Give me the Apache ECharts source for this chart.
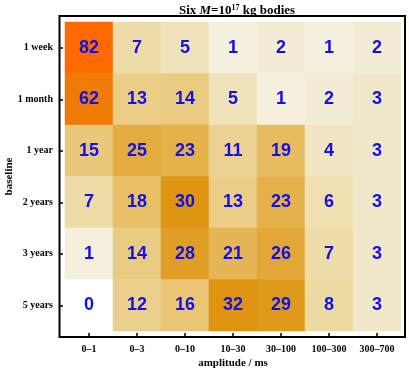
<!DOCTYPE html>
<html><head><meta charset="utf-8">
<script src="https://cdn.jsdelivr.net/npm/echarts@6/dist/echarts.min.js"></script>
<style>html,body{margin:0;padding:0;background:#fff}#c{width:409px;height:371px}</style>
</head><body><div id="c"></div>
<script>
const amplitudes = ["0–1","0–3","0–10","10–30","30–100","100–300","300–700"];
const baselines = ["1 week","1 month","1 year","2 years","3 years","5 years"];
const row1week  = [82,7,5,1,2,1,2];
const row1month = [62,13,14,5,1,2,3];
const row1year  = [15,25,23,11,19,4,3];
const row2years = [7,18,30,13,23,6,3];
const row3years = [1,14,28,21,26,7,3];
const row5years = [0,12,16,32,29,8,3];
const rows = [row1week,row1month,row1year,row2years,row3years,row5years];

const stops = [
  [0,[255,255,255]],[1,[244,240,221]],[3,[241,232,204]],[7,[239,220,168]],
  [14,[234,203,130]],[20,[230,185,90]],[25,[227,171,64]],[30,[222,149,18]],
  [62,[239,122,6]],[82,[255,106,0]]
];
function colorOf(v){
  for(let i=1;i<stops.length;i++){
    if(v<=stops[i][0]){
      const a=stops[i-1],b=stops[i];const t=(v-a[0])/(b[0]-a[0]);
      const c=a[1].map((x,k)=>Math.round(x+(b[1][k]-x)*t));
      return 'rgb('+c.join(',')+')';
    }
  }
  return 'rgb(255,106,0)';
}
const data=[];
rows.forEach((r,yi)=>r.forEach((v,xi)=>{
  data.push({value:[xi,yi,v],itemStyle:{color:colorOf(v)}});
}));
const serif='"Liberation Serif", "DejaVu Serif", serif';
const chart=echarts.init(document.getElementById('c'),null,{renderer:'canvas'});
chart.setOption({
  animation:false,
  title:{
    text:'{n|Six }{i|M}{n|=10}{s|17}{n| kg bodies}',
    left:232, top:-1, textAlign:'center',
    textStyle:{rich:{
      n:{fontFamily:serif,fontWeight:'bold',fontSize:13,color:'#000'},
      i:{fontFamily:serif,fontWeight:'bold',fontStyle:'italic',fontSize:13,color:'#000'},
      s:{fontFamily:serif,fontWeight:'bold',fontSize:8,color:'#000',verticalAlign:'top',padding:[0,0,6,0]}
    }}
  },
  grid:{left:65,right:8,top:22,bottom:40,outerBoundsMode:'none',containLabel:false},
  xAxis:{type:'category',data:amplitudes,offset:6,
    axisLine:{show:false},
    axisTick:{show:true,inside:true,length:4,alignWithLabel:true,lineStyle:{color:'#000',width:1.5}},
    axisLabel:{fontFamily:serif,fontWeight:'bold',fontSize:10,color:'#000',margin:7,interval:0},
    name:'amplitude / ms',nameLocation:'middle',nameGap:21,nameMoveOverlap:false,
    nameTextStyle:{fontFamily:serif,fontWeight:'bold',fontSize:11,color:'#000'},
    splitArea:{show:false}},
  yAxis:{type:'category',data:baselines,inverse:true,offset:6,
    axisLine:{show:false},
    axisTick:{show:true,inside:true,length:4,alignWithLabel:true,lineStyle:{color:'#000',width:1.5}},
    axisLabel:{fontFamily:serif,fontWeight:'bold',fontSize:10,color:'#000',margin:6},
    name:'baseline',nameLocation:'middle',nameGap:44,nameRotate:90,nameMoveOverlap:false,
    nameTextStyle:{fontFamily:serif,fontWeight:'bold',fontSize:11,color:'#000'}},
  graphic:[{type:'rect',shape:{x:59.5,y:16,width:345.5,height:321},
    style:{fill:null,stroke:'#000',lineWidth:2},z:100}],
  series:[{type:'heatmap',data:data,
    label:{show:true,formatter:p=>p.value[2],color:'#1010e8',
      fontFamily:'"Liberation Sans", Arial, sans-serif',fontWeight:'bold',fontSize:18},
    itemStyle:{borderWidth:0}}]
});
</script></body></html>
